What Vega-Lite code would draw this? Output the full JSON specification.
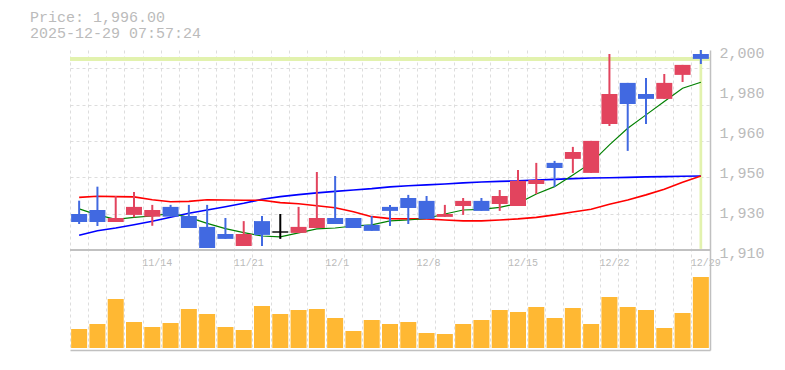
{
  "$schema": "https://vega.github.io/schema/vega-lite/v6.json",
  "width": 640,
  "height": 300,
  "autosize": {"type": "none"},
  "padding": {"left": 70, "top": 50, "right": 75, "bottom": 20},
  "background": "white",
  "title": {
    "text": ["Price: 1,996.00", "2025-12-29 07:57:24"],
    "anchor": "start",
    "frame": "group",
    "dx": -40,
    "font": "Liberation Mono",
    "fontSize": 15,
    "fontWeight": "normal",
    "color": "#bbbbbb",
    "lineHeight": 16,
    "offset": 4
  },
  "config": {
    "view": {"stroke": null},
    "axis": {"labelFont": "Liberation Mono", "labelColor": "#bbbbbb"}
  },
  "data": {
    "values": [
      {"d": "11/10", "o": 1926.2, "h": 1932.2, "l": 1921.7, "c": 1922.6, "v": 19000, "m5": 1928.5, "m25": 1933.7, "m75": 1916.6},
      {"d": "11/11", "o": 1928.0, "h": 1938.5, "l": 1920.8, "c": 1922.6, "v": 24000, "m5": 1925.8, "m25": 1934.2, "m75": 1918.7},
      {"d": "11/12", "o": 1922.6, "h": 1934.3, "l": 1922.6, "c": 1924.4, "v": 49000, "m5": 1923.8, "m25": 1934.0, "m75": 1919.9},
      {"d": "11/13", "o": 1925.8, "h": 1936.1, "l": 1924.7, "c": 1929.4, "v": 26000, "m5": 1924.7, "m25": 1933.9, "m75": 1921.4},
      {"d": "11/14", "o": 1925.0, "h": 1930.3, "l": 1920.9, "c": 1928.0, "v": 21000, "m5": 1925.3, "m25": 1932.6, "m75": 1922.9},
      {"d": "11/17", "o": 1929.4, "h": 1930.3, "l": 1925.0, "c": 1925.0, "v": 25000, "m5": 1926.5, "m25": 1931.7, "m75": 1924.7},
      {"d": "11/18", "o": 1925.3, "h": 1930.3, "l": 1919.9, "c": 1919.9, "v": 39000, "m5": 1924.7, "m25": 1931.9, "m75": 1926.5},
      {"d": "11/19", "o": 1920.4, "h": 1930.3, "l": 1910.9, "c": 1910.9, "v": 34000, "m5": 1922.0, "m25": 1932.6, "m75": 1928.0},
      {"d": "11/20", "o": 1917.2, "h": 1924.4, "l": 1915.0, "c": 1915.0, "v": 21000, "m5": 1919.6, "m25": 1932.5, "m75": 1929.5},
      {"d": "11/21", "o": 1911.8, "h": 1923.0, "l": 1911.8, "c": 1917.2, "v": 18000, "m5": 1917.8, "m25": 1932.4, "m75": 1931.0},
      {"d": "11/25", "o": 1923.0, "h": 1925.3, "l": 1911.8, "c": 1916.8, "v": 42000, "m5": 1916.3, "m25": 1932.4, "m75": 1932.8},
      {"d": "11/26", "o": 1918.1, "h": 1926.2, "l": 1915.0, "c": 1918.1, "v": 34000, "m5": 1915.9, "m25": 1931.3, "m75": 1934.0},
      {"d": "11/27", "o": 1917.7, "h": 1929.4, "l": 1917.7, "c": 1920.4, "v": 38000, "m5": 1917.7, "m25": 1930.8, "m75": 1934.9},
      {"d": "11/28", "o": 1919.9, "h": 1945.1, "l": 1919.9, "c": 1924.4, "v": 39000, "m5": 1919.5, "m25": 1929.9, "m75": 1935.7},
      {"d": "12/1", "o": 1924.4, "h": 1943.3, "l": 1921.7, "c": 1921.7, "v": 30000, "m5": 1919.9, "m25": 1929.0, "m75": 1936.4},
      {"d": "12/2", "o": 1924.4, "h": 1924.4, "l": 1919.9, "c": 1919.9, "v": 17000, "m5": 1920.8, "m25": 1927.2, "m75": 1937.0},
      {"d": "12/3", "o": 1921.3, "h": 1925.3, "l": 1918.6, "c": 1918.6, "v": 28000, "m5": 1921.3, "m25": 1925.0, "m75": 1937.6},
      {"d": "12/4", "o": 1929.4, "h": 1930.3, "l": 1920.8, "c": 1927.6, "v": 24000, "m5": 1923.1, "m25": 1924.1, "m75": 1938.4},
      {"d": "12/5", "o": 1933.4, "h": 1934.8, "l": 1921.7, "c": 1928.9, "v": 26000, "m5": 1923.5, "m25": 1924.0, "m75": 1938.9},
      {"d": "12/8", "o": 1932.1, "h": 1934.3, "l": 1924.0, "c": 1924.0, "v": 15000, "m5": 1924.2, "m25": 1924.0, "m75": 1939.3},
      {"d": "12/9", "o": 1924.9, "h": 1930.3, "l": 1924.9, "c": 1926.2, "v": 14000, "m5": 1926.2, "m25": 1923.5, "m75": 1939.7},
      {"d": "12/10", "o": 1929.8, "h": 1933.4, "l": 1925.8, "c": 1932.1, "v": 24000, "m5": 1928.0, "m25": 1923.1, "m75": 1940.2},
      {"d": "12/11", "o": 1932.1, "h": 1933.4, "l": 1927.6, "c": 1927.6, "v": 28000, "m5": 1928.3, "m25": 1923.1, "m75": 1940.6},
      {"d": "12/12", "o": 1930.7, "h": 1937.0, "l": 1927.6, "c": 1934.3, "v": 38000, "m5": 1929.2, "m25": 1923.5, "m75": 1940.9},
      {"d": "12/15", "o": 1929.8, "h": 1946.0, "l": 1929.8, "c": 1941.1, "v": 36000, "m5": 1931.0, "m25": 1924.0, "m75": 1941.1},
      {"d": "12/16", "o": 1939.7, "h": 1949.2, "l": 1935.2, "c": 1941.5, "v": 41000, "m5": 1935.2, "m25": 1924.7, "m75": 1941.5},
      {"d": "12/17", "o": 1949.2, "h": 1950.1, "l": 1938.4, "c": 1946.9, "v": 30000, "m5": 1938.5, "m25": 1925.8, "m75": 1941.8},
      {"d": "12/18", "o": 1951.0, "h": 1956.4, "l": 1944.7, "c": 1954.1, "v": 40000, "m5": 1943.8, "m25": 1927.1, "m75": 1942.1},
      {"d": "12/19", "o": 1944.7, "h": 1959.1, "l": 1944.7, "c": 1959.1, "v": 24000, "m5": 1949.2, "m25": 1928.3, "m75": 1942.4},
      {"d": "12/22", "o": 1966.7, "h": 1998.2, "l": 1965.8, "c": 1980.2, "v": 51000, "m5": 1957.3, "m25": 1930.6, "m75": 1942.5},
      {"d": "12/23", "o": 1985.2, "h": 1985.2, "l": 1954.6, "c": 1975.7, "v": 41000, "m5": 1964.8, "m25": 1932.5, "m75": 1942.7},
      {"d": "12/24", "o": 1980.2, "h": 1987.4, "l": 1966.7, "c": 1978.0, "v": 38000, "m5": 1970.8, "m25": 1934.8, "m75": 1942.9},
      {"d": "12/25", "o": 1978.0, "h": 1989.2, "l": 1978.0, "c": 1985.2, "v": 20000, "m5": 1976.8, "m25": 1937.3, "m75": 1943.0},
      {"d": "12/26", "o": 1988.8, "h": 1993.3, "l": 1985.6, "c": 1993.3, "v": 35000, "m5": 1982.8, "m25": 1940.5, "m75": 1943.2},
      {"d": "12/29", "o": 1998.2, "h": 2000.0, "l": 1993.7, "c": 1996.0, "v": 71000, "m5": 1985.5, "m25": 1943.3, "m75": 1943.3}
    ]
  },
  "layer": [
    {
      "layer": [
        {
          "mark": {"type": "rule", "color": "#c0c0c0", "strokeWidth": 1.5},
          "encoding": {
            "y": {
              "datum": 1910,
              "type": "quantitative",
              "title": null,
              "scale": {"domain": [1865, 2000], "nice": false, "zero": false},
              "axis": {
                "orient": "left",
                "grid": true,
                "gridDash": [3, 3],
                "gridColor": "#dddddd",
                "labels": false,
                "ticks": false,
                "domain": false,
                "values": [1910, 1918.1818, 1926.3636, 1934.5455, 1942.7273, 1950.9091, 1959.0909, 1967.2727, 1975.4545, 1983.6364, 1991.8182, 2000]
              }
            }
          }
        },
        {
          "mark": {"type": "rule", "color": "#e2f2ae", "strokeWidth": 3},
          "encoding": {
            "y": {"datum": 1996, "type": "quantitative", "title": null, "scale": {"domain": [1865, 2000], "nice": false, "zero": false}}
          }
        }
      ]
    },
    {
      "mark": {"type": "bar", "color": "#ffb833", "width": {"band": 0.875}},
      "encoding": {
        "x": {
          "field": "d",
          "type": "ordinal",
          "sort": null,
          "title": null,
          "scale": {"type": "band", "paddingInner": 0, "paddingOuter": 0},
          "axis": {
            "bandPosition": 0,
            "grid": true,
            "gridDash": [3, 3],
            "gridColor": "#dddddd",
            "ticks": false,
            "labelAngle": 0,
            "labelAlign": "left",
            "labelBaseline": "top",
            "labelPadding": -93,
            "labelOffset": -10,
            "labelOverlap": false,
            "labelFontSize": 10,
            "labelExpr": "indexof(['11/14','11/21','12/1','12/8','12/15','12/22','12/29'], datum.value) >= 0 ? datum.value : ''",
            "domainColor": "#c0c0c0",
            "domainWidth": 1.5
          }
        },
        "y": {
          "field": "v",
          "type": "quantitative",
          "title": null,
          "scale": {"domain": [-2000, 298000], "nice": false, "zero": false},
          "axis": null
        }
      }
    },
    {
      "encoding": {
        "x": {"field": "d", "type": "ordinal", "sort": null, "title": null, "scale": {"type": "band", "paddingInner": 0, "paddingOuter": 0}}
      },
      "layer": [
        {
          "transform": [{"filter": "datum.d == '12/29'"}],
          "mark": {"type": "rule", "color": "#e2f2ae", "strokeWidth": 2.7},
          "encoding": {
            "y": {
              "datum": 2000,
              "type": "quantitative",
              "title": null,
              "scale": {"domain": [1865, 2000], "nice": false, "zero": false},
              "axis": {
                "orient": "right",
                "grid": false,
                "ticks": false,
                "domain": true,
                "domainColor": "#c0c0c0",
                "domainWidth": 1.5,
                "labelFontSize": 15,
                "labelPadding": 9,
                "labelOffset": 2,
                "labelAlign": "left",
                "labelBaseline": "middle",
                "values": [1910, 1928, 1946, 1964, 1982, 2000],
                "labelExpr": "format(round(datum.value / 10) * 10, ',')"
              }
            },
            "y2": {"datum": 1910.5}
          }
        },
        {
          "mark": {"type": "line", "color": "#0000ff", "strokeWidth": 1.6},
          "encoding": {
            "y": {"field": "m75", "type": "quantitative", "title": null, "scale": {"domain": [1865, 2000], "nice": false, "zero": false}}
          }
        },
        {
          "mark": {"type": "line", "color": "#ff0000", "strokeWidth": 1.6},
          "encoding": {
            "y": {"field": "m25", "type": "quantitative", "title": null, "scale": {"domain": [1865, 2000], "nice": false, "zero": false}}
          }
        },
        {
          "mark": {"type": "line", "color": "#008000", "strokeWidth": 1.2},
          "encoding": {
            "y": {"field": "m5", "type": "quantitative", "title": null, "scale": {"domain": [1865, 2000], "nice": false, "zero": false}}
          }
        },
        {
          "mark": {"type": "rule", "strokeWidth": 2},
          "encoding": {
            "y": {"field": "l", "type": "quantitative", "title": null, "scale": {"domain": [1865, 2000], "nice": false, "zero": false}},
            "y2": {"field": "h"},
            "color": {
              "condition": [
                {"test": "datum.c > datum.o", "value": "#e2445e"},
                {"test": "datum.c < datum.o", "value": "#4169e1"}
              ],
              "value": "#000000"
            }
          }
        },
        {
          "mark": {"type": "bar", "width": {"band": 0.875}},
          "encoding": {
            "y": {"field": "o", "type": "quantitative", "title": null, "scale": {"domain": [1865, 2000], "nice": false, "zero": false}},
            "y2": {"field": "c"},
            "color": {
              "condition": [
                {"test": "datum.c > datum.o", "value": "#e2445e"},
                {"test": "datum.c < datum.o", "value": "#4169e1"}
              ],
              "value": "#000000"
            }
          }
        },
        {
          "transform": [{"filter": "datum.c == datum.o"}],
          "mark": {"type": "tick", "color": "#000000", "size": 16, "thickness": 2, "orient": "horizontal"},
          "encoding": {
            "y": {"field": "c", "type": "quantitative", "title": null, "scale": {"domain": [1865, 2000], "nice": false, "zero": false}}
          }
        }
      ]
    }
  ],
  "resolve": {"scale": {"y": "independent"}, "axis": {"y": "independent"}}
}
